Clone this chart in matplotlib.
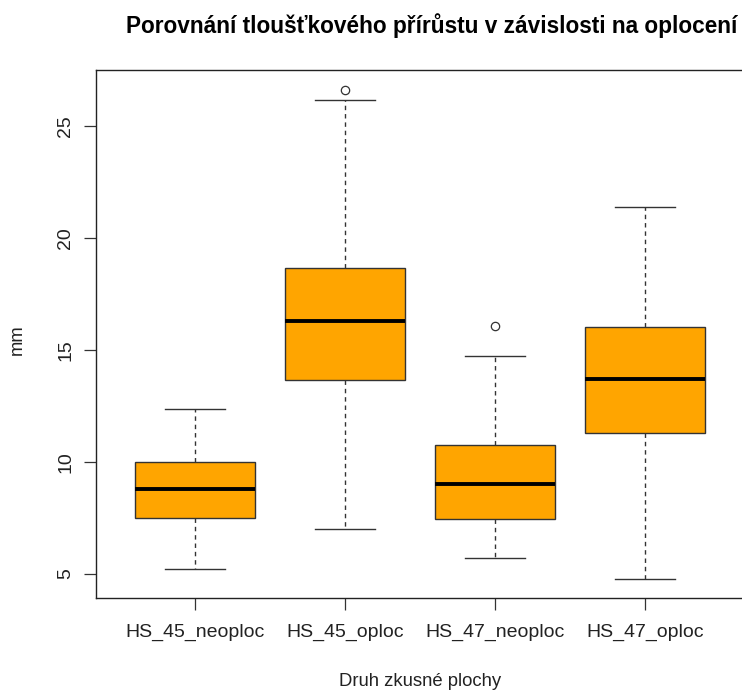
import matplotlib
matplotlib.use("Agg")
import matplotlib.pyplot as plt

# Hodnoty (mm)
skupiny = ["HS_45_neoploc", "HS_45_oploc", "HS_47_neoploc", "HS_47_oploc"]
dolni_vous = [5.22, 7.02, 5.71, 4.79]
q1 = [7.52, 13.67, 7.44, 11.31]
median = [8.81, 16.30, 9.02, 13.70]
q3 = [10.02, 18.67, 10.76, 16.05]
horni_vous = [12.39, 26.19, 14.74, 21.40]
odlehle = [[], [26.63], [16.09], []]

plt.rcParams["font.family"] = ["Liberation Sans", "DejaVu Sans"]

fig = plt.figure(figsize=(7.42, 6.91), dpi=100)
ax = fig.add_axes([96 / 742, 93 / 691, 648 / 742, 528 / 691])

stats = []
for i, nazev in enumerate(skupiny):
    stats.append({
        "label": nazev, "med": median[i], "q1": q1[i], "q3": q3[i],
        "whislo": dolni_vous[i], "whishi": horni_vous[i], "fliers": odlehle[i],
    })

ax.bxp(
    stats, positions=range(1, len(skupiny) + 1), widths=0.8, patch_artist=True,
    boxprops=dict(facecolor="#FFA500", edgecolor="#333333", linewidth=1.0),
    medianprops=dict(color="black", linewidth=2.8, solid_capstyle="butt"),
    whiskerprops=dict(color="#333333", linewidth=1.0, linestyle=(0, (3.2, 2.8))),
    capprops=dict(color="#333333", linewidth=1.0),
    capwidths=0.4,
    flierprops=dict(marker="o", markerfacecolor="white", markeredgecolor="#333333",
                    markersize=6, markeredgewidth=0.9),
)

ax.set_xlim(0.34, 4.66)
ax.set_ylim(3.93, 27.52)
ax.set_yticks([5, 10, 15, 20, 25])
ax.set_xticks(range(1, len(skupiny) + 1))
ax.set_xticklabels(skupiny)
ax.tick_params(axis="both", length=8.5, width=0.9, color="#333333", labelsize=14,
               labelcolor="#222222")
ax.tick_params(axis="x", pad=10)
ax.tick_params(axis="y", pad=7)
for lab in ax.get_yticklabels():
    lab.set_rotation(90)
    lab.set_va("center")
for sp in ax.spines.values():
    sp.set_linewidth(1.0)
    sp.set_color("#222222")

fig.text(17 / 742, 1 - 340 / 691, "mm", rotation=90, ha="center", va="center",
         fontsize=13.3, color="#222222")
fig.text(420 / 742, 1 - 681 / 691, "Druh zkusné plochy", ha="center", va="center",
         fontsize=13.3, color="#222222")
fig.text(432 / 742, 1 - 26 / 691, "Porovnání tloušťkového přírůstu v závislosti na oplocení",
         ha="center", va="center", fontsize=16.3, fontweight="bold", color="black")

fig.savefig("out.png", dpi=100)
